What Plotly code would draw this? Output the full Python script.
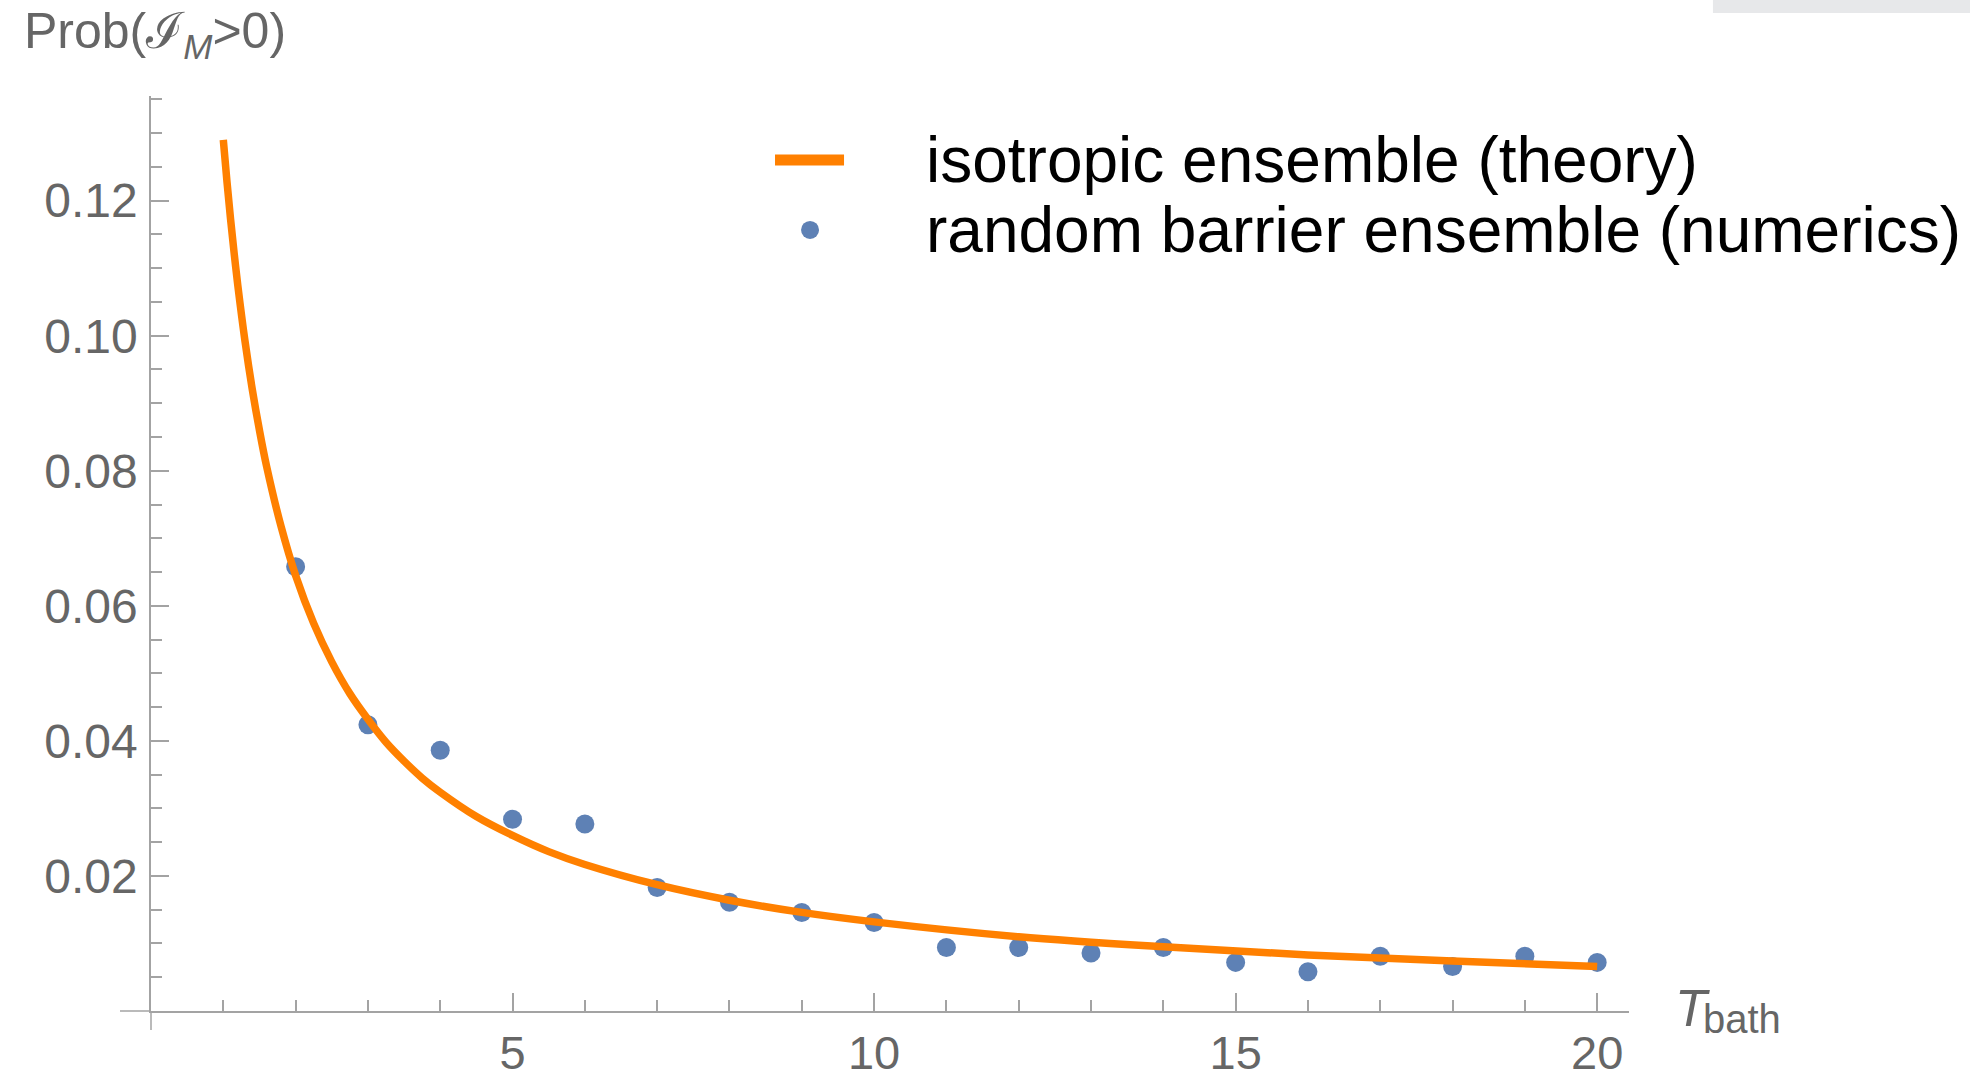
import plotly.graph_objects as go

# ---- data ----
T_numerics = [2, 3, 4, 5, 6, 7, 8, 9, 10, 11, 12, 13, 14, 15, 16, 17, 18, 19, 20]
P_numerics = [0.0658, 0.0424, 0.0386, 0.0284, 0.0277, 0.0183, 0.0161, 0.0146, 0.0131,
              0.0094, 0.0094, 0.0086, 0.0094, 0.0072, 0.0058, 0.0081, 0.0066, 0.0081, 0.0072]

T_theory = [1.0, 1.05, 1.1, 1.15, 1.2, 1.3, 1.4, 1.5, 1.6, 1.8, 2.0, 2.25, 2.5, 2.75, 3.0,
            3.25, 3.5, 3.75, 4.0, 4.5, 5.0, 5.5, 6.0, 7.0, 8.0, 9.0, 10.0, 12.0, 14.0, 16.0,
            18.0, 20.0]
P_theory = [0.129, 0.1229, 0.1173, 0.1122, 0.1075, 0.0992, 0.0921, 0.086, 0.0806, 0.0717,
            0.0645, 0.0574, 0.0517, 0.0470, 0.0432, 0.0398, 0.0370, 0.0345, 0.0324, 0.0288,
            0.0260, 0.0236, 0.0217, 0.0187, 0.0164, 0.0146, 0.0132, 0.0110, 0.0095, 0.0083,
            0.0074, 0.0066]

x_tickvals = [5, 10, 15, 20]
x_ticktext = ["5", "10", "15", "20"]
y_tickvals = [0.02, 0.04, 0.06, 0.08, 0.10, 0.12]
y_ticktext = ["0.02", "0.04", "0.06", "0.08", "0.10", "0.12"]

legend_names = ["isotropic ensemble (theory)", "random barrier ensemble (numerics)"]

ORANGE = "#FF8000"
BLUE = "#5E81B5"
AXIS = "#a3a3a3"
LABEL = "#666666"
FONT = "Liberation Sans, Arial, Helvetica, sans-serif"

fig = go.Figure()
fig.add_trace(go.Scatter(x=T_numerics, y=P_numerics, mode="markers",
                         marker=dict(color=BLUE, size=19, line=dict(width=0)),
                         name=legend_names[1], showlegend=False, cliponaxis=False))
fig.add_trace(go.Scatter(x=T_theory, y=P_theory, mode="lines",
                         line=dict(color=ORANGE, width=7.5, shape="spline", smoothing=1.0),
                         name=legend_names[0], showlegend=False, cliponaxis=False))

fig.update_layout(
    width=1970, height=1075,
    margin=dict(l=151, r=341, t=96, b=64, autoexpand=False),
    paper_bgcolor="white", plot_bgcolor="white",
    font=dict(family=FONT, color=LABEL, size=48),
    showlegend=False,
)
fig.update_xaxes(
    range=[0, 20.44], showgrid=False, zeroline=False, automargin=False,
    showline=True, linecolor=AXIS, linewidth=1.5,
    tickmode="array", tickvals=x_tickvals, ticktext=x_ticktext,
    ticks="inside", ticklen=18, tickwidth=1.5, tickcolor=AXIS,
    tickfont=dict(size=47, color=LABEL, family=FONT), ticklabelstandoff=0,
    minor=dict(dtick=1, tick0=0, ticks="inside", ticklen=11, tickwidth=1.5, tickcolor=AXIS, showgrid=False),
)
fig.update_yaxes(
    range=[0, 0.1355], showgrid=False, zeroline=False, automargin=False,
    showline=True, linecolor=AXIS, linewidth=1.5,
    tickmode="array", tickvals=y_tickvals, ticktext=y_ticktext,
    ticks="inside", ticklen=18, tickwidth=1.5, tickcolor=AXIS,
    tickfont=dict(size=48, color=LABEL, family=FONT), ticklabelstandoff=2,
    minor=dict(dtick=0.005, tick0=0, ticks="inside", ticklen=11, tickwidth=1.5, tickcolor=AXIS, showgrid=False),
)

shapes = [
    # axis extensions past the origin
    dict(type="line", xref="paper", yref="paper", xsizemode="pixel", xanchor=0,
         x0=-31, x1=0, y0=0, y1=0, line=dict(color=AXIS, width=1.5)),
    dict(type="line", xref="paper", yref="paper", ysizemode="pixel", yanchor=0,
         x0=0, x1=0, y0=-19, y1=0, line=dict(color=AXIS, width=1.5)),
    # legend symbols
    dict(type="line", xref="paper", yref="paper", x0=0.4222, x1=0.4689, y0=0.930, y1=0.930,
         line=dict(color=ORANGE, width=11)),
    dict(type="circle", xref="paper", yref="paper", xsizemode="pixel", ysizemode="pixel",
         xanchor=0.4459, yanchor=0.8536, x0=-9, x1=9, y0=-9, y1=9,
         fillcolor=BLUE, line=dict(width=0)),
    # faint grey strip at the top-right corner
    dict(type="rect", xref="paper", yref="paper", x0=1.0568, x1=1.25, y0=1.0907, y1=1.12,
         fillcolor="#e7e8ea", line=dict(width=0), layer="below"),
]
fig.update_layout(shapes=shapes)

annotations = [
    dict(text=legend_names[0], xref="paper", yref="paper", x=0.523, y=0.930,
         xanchor="left", yanchor="middle", showarrow=False,
         font=dict(size=64, color="black", family=FONT)),
    dict(text=legend_names[1], xref="paper", yref="paper", x=0.523, y=0.8536,
         xanchor="left", yanchor="middle", showarrow=False,
         font=dict(size=64, color="black", family=FONT)),
    dict(text="Prob(ℐ<sub><i>M</i></sub>>0)", xref="paper", yref="paper", x=-0.0873, y=1.0667,
         xanchor="left", yanchor="middle", showarrow=False,
         font=dict(size=50, color=LABEL, family=FONT)),
    dict(text="<i>T</i>", xref="paper", yref="paper", x=1.0295, y=0.0030,
         xanchor="left", yanchor="middle", showarrow=False,
         font=dict(size=52, color=LABEL, family=FONT)),
    dict(text="bath", xref="paper", yref="paper", x=1.0490, y=-0.0087,
         xanchor="left", yanchor="middle", showarrow=False,
         font=dict(size=40, color=LABEL, family=FONT)),
]
fig.update_layout(annotations=annotations)

fig.write_html("out.html")
